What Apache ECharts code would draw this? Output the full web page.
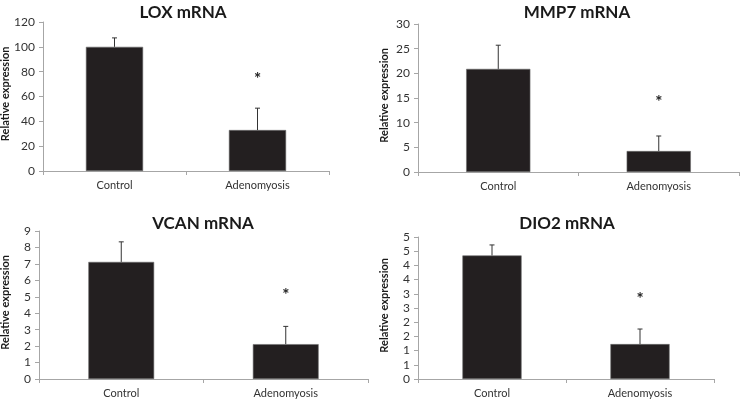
<!DOCTYPE html>
<html><head><meta charset="utf-8">
<script src="https://cdn.jsdelivr.net/npm/echarts@6/dist/echarts.min.js"></script>
<style>html,body{margin:0;padding:0;background:#fff}#c{width:740px;height:401px}</style>
</head><body><div id="c"></div>
<script>
var categories = ['Control', 'Adenomyosis'];
var titles = ['LOX mRNA', 'MMP7 mRNA', 'VCAN mRNA', 'DIO2 mRNA'];
var loxValues = [100, 33];
var loxErrors = [7.2, 17.6];
var mmp7Values = [20.9, 4.25];
var mmp7Errors = [4.8, 3.05];
var vcanValues = [7.12, 2.12];
var vcanErrors = [1.22, 1.08];
var dio2Values = [4.35, 1.23];
var dio2Errors = [0.37, 0.53];
var starValues = [74, 14, 5.06, 2.8];
var loxTicks = [0, 20, 40, 60, 80, 100, 120];
var mmp7Ticks = [0, 5, 10, 15, 20, 25, 30];
var vcanTicks = [0, 1, 2, 3, 4, 5, 6, 7, 8, 9];
var dio2Ticks = [0, 0.5, 1, 1.5, 2, 2.5, 3, 3.5, 4, 4.5, 5];
var dio2TickLabels = ['0', '1', '1', '2', '2', '3', '3', '4', '4', '5', '5'];

var panels = [
  {vals: loxValues, errs: loxErrors, ticks: loxTicks, labels: null},
  {vals: mmp7Values, errs: mmp7Errors, ticks: mmp7Ticks, labels: null},
  {vals: vcanValues, errs: vcanErrors, ticks: vcanTicks, labels: null},
  {vals: dio2Values, errs: dio2Errors, ticks: dio2Ticks, labels: dio2TickLabels}
];
var gridPos = [
  {left: 43, top: 22, width: 286, height: 149},
  {left: 418, top: 24, width: 321, height: 148},
  {left: 39, top: 231, width: 329, height: 148},
  {left: 418, top: 237, width: 296, height: 142}
];
var titlePos = [
  {left: 178, top: -1},
  {left: 572, top: -1},
  {left: 198, top: 210},
  {left: 562, top: 210}
];
var yNameX = [7, 386, 7, 386];
var FONT = 'Lato';
var axisColor = '#a6a6a6';

var option = {
  animation: false,
  backgroundColor: '#fff',
  title: [], grid: [], xAxis: [], yAxis: [], series: [], graphic: []
};

panels.forEach(function (p, i) {
  option.title.push({
    text: titles[i], left: titlePos[i].left, top: titlePos[i].top, textAlign: 'center',
    textStyle: {fontFamily: FONT, fontWeight: 'bold', fontSize: 17, color: '#1a1a1a'}
  });
  option.grid.push(Object.assign({containLabel: false}, gridPos[i]));
  option.xAxis.push({
    type: 'category', gridIndex: i, data: categories,
    axisLine: {lineStyle: {color: axisColor, width: 1}},
    axisTick: {show: true, length: 4, lineStyle: {color: axisColor}, alignWithLabel: false},
    axisLabel: {fontFamily: FONT, fontSize: 11, color: '#333', margin: 9}
  });
  var tks = p.ticks;
  var labels = p.labels;
  option.yAxis.push({
    type: 'value', gridIndex: i, min: tks[0], max: tks[tks.length - 1],
    interval: tks[1] - tks[0],
    splitLine: {show: false},
    axisLine: {show: true, lineStyle: {color: axisColor, width: 1}},
    axisTick: {show: true, length: 4, lineStyle: {color: axisColor}},
    axisLabel: {
      fontFamily: FONT, fontSize: 12, color: '#333', margin: 8,
      formatter: function (v, idx) {
        if (labels) { var k = tks.indexOf(v); return k >= 0 ? labels[k] : ''; }
        return String(v);
      }
    }
  });
  var gp = gridPos[i];
  option.graphic.push({
    type: 'text', left: yNameX[i] - 7, top: gp.top + gp.height / 2 - 50,
    rotation: Math.PI / 2,
    style: {text: 'Relative expression', font: 'bold 11px ' + FONT, fill: '#1a1a1a'}
  });
  option.series.push({
    type: 'bar', xAxisIndex: i, yAxisIndex: i, data: p.vals, barWidth: '40%',
    itemStyle: {color: '#231f20', borderColor: '#6d6d6d', borderWidth: 0.6}
  });
  option.series.push({
    type: 'custom', xAxisIndex: i, yAxisIndex: i, z: 5,
    data: p.vals.map(function (v, k) { return [k, v, v + p.errs[k]]; }),
    renderItem: function (params, api) {
      var base = api.coord([api.value(0), api.value(1)]);
      var top = api.coord([api.value(0), api.value(2)]);
      return {type: 'group', children: [
        {type: 'line', shape: {x1: base[0], y1: base[1], x2: top[0], y2: top[1]}, style: {stroke: '#333', lineWidth: 1}},
        {type: 'line', shape: {x1: top[0] - 2.5, y1: top[1], x2: top[0] + 2.5, y2: top[1]}, style: {stroke: '#333', lineWidth: 1}}
      ]};
    }
  });
  option.series.push({
    type: 'custom', xAxisIndex: i, yAxisIndex: i, z: 6,
    data: [[1, starValues[i]]],
    renderItem: function (params, api) {
      var pt = api.coord([api.value(0), api.value(1)]);
      return {type: 'text', x: pt[0], y: pt[1],
        style: {text: '*', font: 'bold 17px ' + FONT, fill: '#222', align: 'center', verticalAlign: 'middle'}};
    }
  });
});

var chart = echarts.init(document.getElementById('c'), null, {renderer: 'canvas'});
chart.setOption(option);
</script></body></html>
